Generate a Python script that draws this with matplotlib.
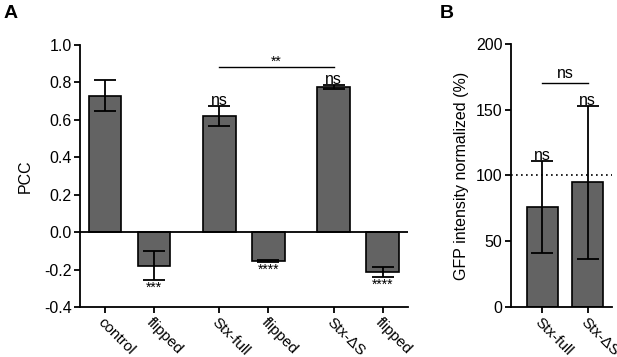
import matplotlib.pyplot as plt

plt.rcParams['font.family'] = ['Liberation Sans', 'DejaVu Sans']

# Data
labels_a = ['control', 'flipped', 'Stx-full', 'flipped', 'Stx-ΔS', 'flipped']
pos_a = [0, 1, 2.33, 3.33, 4.67, 5.67]
pcc = [0.73, -0.18, 0.62, -0.153, 0.775, -0.213]
pcc_err = [0.085, 0.077, 0.055, 0.004, 0.01, 0.028]
marks_a = ['', '***', 'ns', '****', 'ns', '****']

labels_b = ['Stx-full', 'Stx-ΔS']
pos_b = [0, 1]
gfp = [76.2, 94.8]
gfp_err = [35, 58.3]

bar_color = '#636363'
fs = 11.5

fig = plt.figure(figsize=(6.17, 3.57), dpi=100)
ax = fig.add_axes([0.1297, 0.140, 0.5313, 0.734])
ax2 = fig.add_axes([0.828, 0.140, 0.164, 0.737])

# Panel A
ax.bar(pos_a, pcc, width=0.67, color=bar_color, edgecolor='black', linewidth=1.2, zorder=2)
ax.errorbar(pos_a, pcc, yerr=pcc_err, fmt='none', ecolor='black', elinewidth=1.3,
            capsize=8, capthick=1.3, zorder=3)
ax.axhline(0, color='black', linewidth=1.3, zorder=4)
ax.set_xlim(-0.51, 6.18)
ax.set_ylim(-0.4, 1.0)
ax.set_yticks([-0.4, -0.2, 0.0, 0.2, 0.4, 0.6, 0.8, 1.0])
ax.set_yticklabels(['-0.4', '-0.2', '0.0', '0.2', '0.4', '0.6', '0.8', '1.0'])
ax.set_xticks(pos_a)
ax.set_xticklabels(labels_a, rotation=-45, ha='left', rotation_mode='anchor', fontsize=11)
ax.set_ylabel('PCC', fontsize=fs, labelpad=8)

for p, v, e, m in zip(pos_a, pcc, pcc_err, marks_a):
    if m == 'ns':
        ax.text(p, v + e - 0.01, m, ha='center', va='bottom', fontsize=fs)
    elif m:
        ax.text(p, v - e - 0.005, m, ha='center', va='top', fontsize=10)

ax.plot([pos_a[2], pos_a[4]], [0.88, 0.88], color='black', linewidth=1)
ax.text((pos_a[2] + pos_a[4]) / 2, 0.875, '**', ha='center', va='bottom', fontsize=10)

# Panel B
ax2.bar(pos_b, gfp, width=0.69, color=bar_color, edgecolor='black', linewidth=1.2, zorder=2)
ax2.errorbar(pos_b, gfp, yerr=gfp_err, fmt='none', ecolor='black', elinewidth=1.3,
             capsize=8, capthick=1.3, zorder=3)
ax2.axhline(100, color='black', linewidth=1.2, linestyle=(0, (1, 2)), zorder=1)
ax2.set_xlim(-0.7, 1.54)
ax2.set_ylim(0, 200)
ax2.set_yticks([0, 50, 100, 150, 200])
ax2.set_xticks(pos_b)
ax2.set_xticklabels(labels_b, rotation=-45, ha='left', rotation_mode='anchor', fontsize=11)
ax2.set_ylabel('GFP intensity normalized (%)', fontsize=fs, labelpad=5)
for p, v, e in zip(pos_b, gfp, gfp_err):
    ax2.text(p, v + e - 2, 'ns', ha='center', va='bottom', fontsize=fs)
ax2.plot([pos_b[0], pos_b[1]], [170.6, 170.6], color='black', linewidth=1)
ax2.text(0.5, 172, 'ns', ha='center', va='bottom', fontsize=fs)

for a in (ax, ax2):
    for s in ('top', 'right'):
        a.spines[s].set_visible(False)
    for s in ('left', 'bottom'):
        a.spines[s].set_linewidth(1.3)
    a.tick_params(axis='y', labelsize=fs)
    a.tick_params(direction='out', length=4, width=1.3, pad=2)

fig.text(0.005, 0.985, 'A', fontsize=14, fontweight='bold', va='top')
fig.text(0.712, 0.985, 'B', fontsize=14, fontweight='bold', va='top')

fig.savefig('out.png', dpi=100)
